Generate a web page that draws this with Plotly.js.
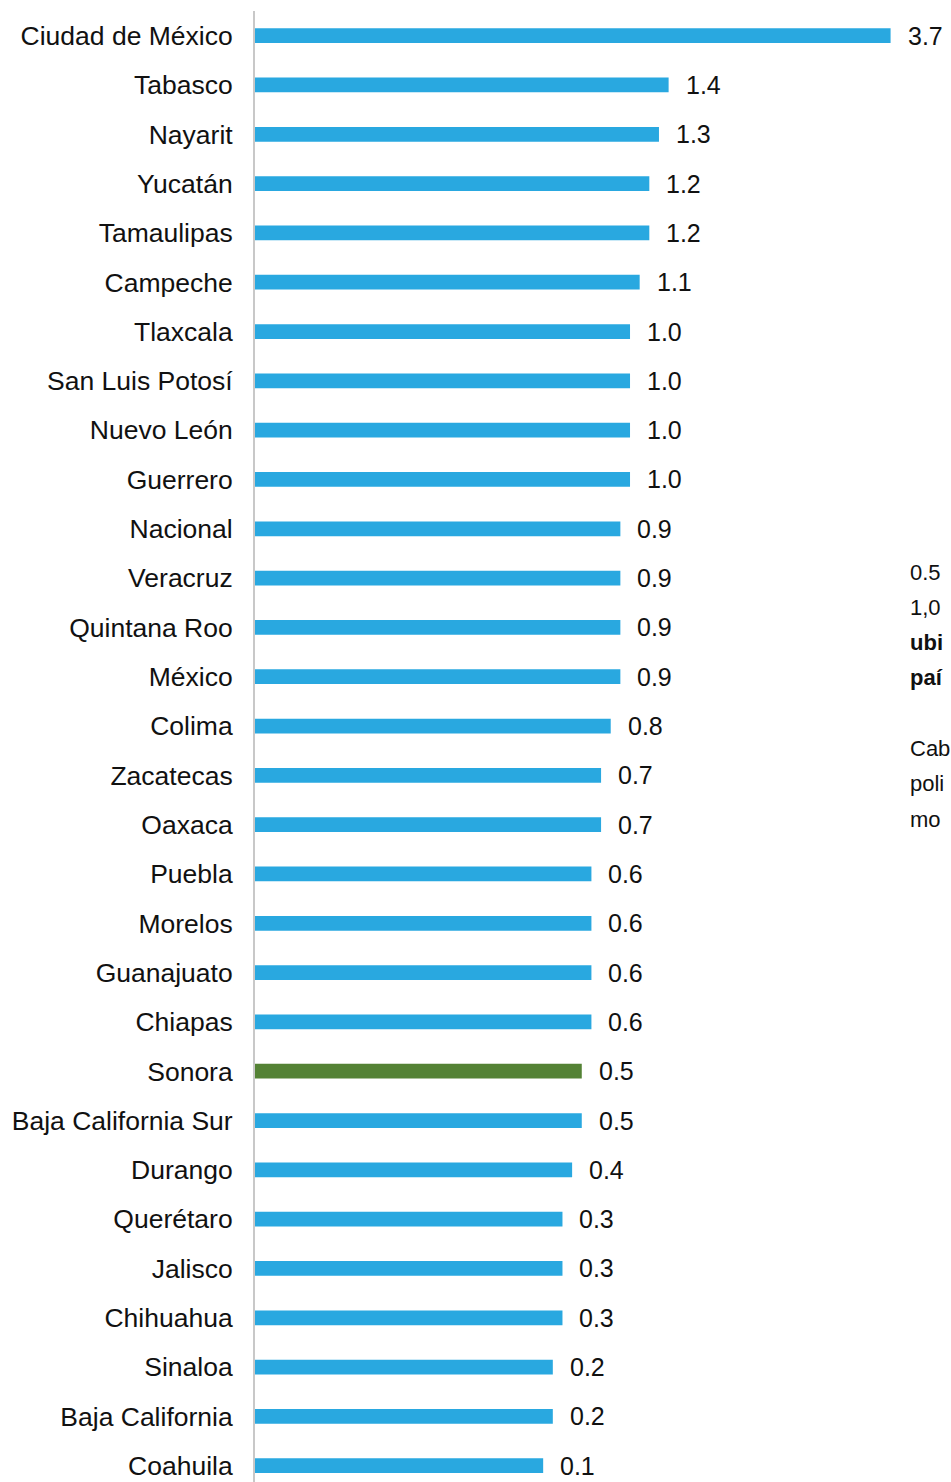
<!DOCTYPE html>
<html>
<head>
<meta charset="utf-8">
<script src="https://cdn.plot.ly/plotly-3.0.1.min.js"></script>
<style>html,body{margin:0;padding:0;background:#fff;}#chart{width:951px;height:1482px;}</style>
</head>
<body>
<div id="chart"></div>
<script>
const categories = ["Ciudad de México","Tabasco","Nayarit","Yucatán","Tamaulipas","Campeche","Tlaxcala","San Luis Potosí","Nuevo León","Guerrero","Nacional","Veracruz","Quintana Roo","México","Colima","Zacatecas","Oaxaca","Puebla","Morelos","Guanajuato","Chiapas","Sonora","Baja California Sur","Durango","Querétaro","Jalisco","Chihuahua","Sinaloa","Baja California","Coahuila"];
const values = [3.7,1.4,1.3,1.2,1.2,1.1,1.0,1.0,1.0,1.0,0.9,0.9,0.9,0.9,0.8,0.7,0.7,0.6,0.6,0.6,0.6,0.5,0.5,0.4,0.3,0.3,0.3,0.2,0.2,0.1];
const highlight = "Sonora";
// visible part of the side note (cut by the right edge in the reference)
const sideText = ["0.5","1,0","<b>ubi</b>","<b>paí</b>","","Cab","poli","mo"];

const BLUE = "#29a8e0", GREEN = "#548235";
const XMIN = -2.886, XMAX = 4.326;
const FONT = "Liberation Sans, Arial, Helvetica, sans-serif";

const trace = {
  type: "bar",
  orientation: "h",
  y: categories,
  x: values.map(v => v - XMIN),
  base: values.map(() => XMIN),
  width: 0.3,
  marker: {color: categories.map(c => c === highlight ? GREEN : BLUE)},
  hoverinfo: "skip"
};

const annotations = values.map((v, i) => ({
  x: v, y: categories[i], xref: "x", yref: "y",
  text: v.toFixed(1), showarrow: false, xanchor: "left", yanchor: "middle",
  xshift: 15, font: {family: FONT, size: 25, color: "#111"}
}));

const W = 951, H = 1482, ML = 255, MT = 11;
sideText.forEach((t, i) => {
  if (!t) return;
  annotations.push({
    x: (908 - ML) / (W - ML), y: 1 - ((572 + i * 35.3) - MT) / (H - MT),
    xref: "paper", yref: "paper",
    text: t, showarrow: false, xanchor: "left", yanchor: "middle",
    font: {family: FONT, size: 22, color: "#111"}
  });
});

const layout = {
  width: W, height: H,
  margin: {l: ML, r: 0, t: MT, b: 0, pad: 0},
  paper_bgcolor: "#fff", plot_bgcolor: "#fff",
  showlegend: false,
  font: {family: FONT, color: "#111"},
  xaxis: {range: [XMIN, XMAX], showgrid: false, zeroline: false, showticklabels: false, showline: false, fixedrange: true},
  yaxis: {
    type: "category", categoryorder: "array", categoryarray: categories,
    range: [29.33, -0.5], autorange: false,
    showgrid: false, zeroline: false, showline: true, linecolor: "#c8c8c8", linewidth: 2,
    ticks: "", ticklabelstandoff: 15,
    tickfont: {family: FONT, size: 26.5, color: "#111"}
  },
  annotations: annotations
};

Plotly.newPlot("chart", [trace], layout, {displayModeBar: false, staticPlot: true});
</script>
</body>
</html>
